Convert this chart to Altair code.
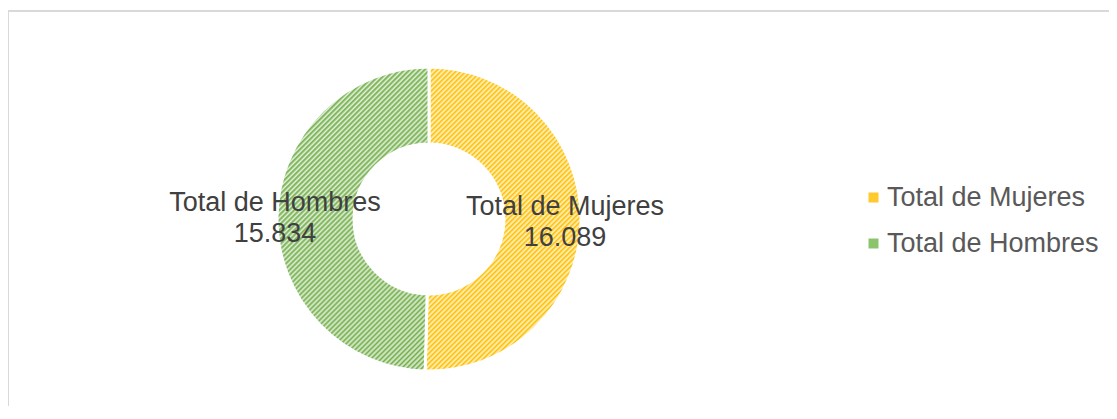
import math
import altair as alt
import pandas as pd

# ---- data ----
categories = ["Total de Mujeres", "Total de Hombres"]
totals = [16089, 15834]

df = pd.DataFrame({"categoria": categories, "total": totals, "orden": list(range(len(categories)))})

# ---- styling ----
CX, CY = 421, 211
R_OUT, R_IN = 152, 75
FONT = "Liberation Sans"
GOLD_DARK, GOLD_LIGHT = "#FFC000", "#FFF2CC"
GREEN_DARK, GREEN_LIGHT = "#70AD47", "#E2EFDA"


def hatch(dark, light, w, h, period=5.0):
    """Diagonal '/' hatch emulated with a periodic linear gradient (bbox units)."""
    s = (w + h) / (w * w + h * h)
    n = max(1, int(round((w + h) / period)))
    stops = []
    for k in range(n):
        stops += [
            alt.GradientStop(color=dark, offset=k / n),
            alt.GradientStop(color=light, offset=(k + 0.55) / n),
        ]
    stops.append(alt.GradientStop(color=dark, offset=1))
    return alt.LinearGradient(gradient="linear", stops=stops, x1=0, y1=0, x2=w * s, y2=h * s)


# bounding boxes of the two halves (for the hatch geometry)
split = 2 * math.pi * totals[0] / sum(totals)
w_m = R_OUT - R_OUT * math.sin(split)
w_h = R_OUT
h_box = 2 * R_OUT

base = (
    alt.Chart(df)
    .transform_joinaggregate(suma="sum(total)")
    .transform_window(acum="sum(total)", sort=[alt.SortField("orden")], frame=[None, 0])
    .transform_calculate(t0="2*PI*(datum.acum - datum.total)/datum.suma")
    .transform_calculate(t1="2*PI*datum.acum/datum.suma")
    .transform_calculate(tm="(datum.t0 + datum.t1)/2")
    .transform_calculate(
        etiqueta="[datum.categoria, replace(format(datum.total, ',d'), ',', '.')]"
    )
)

pos = dict(x=alt.value(CX), y=alt.value(CY))


def arc(cat, fill):
    return (
        base.transform_filter(alt.datum.categoria == cat)
        .mark_arc(fill=fill, stroke="white", strokeWidth=3, outerRadius=R_OUT, innerRadius=R_IN)
        .encode(theta=alt.Theta("t0:Q", scale=None), theta2="t1:Q", **pos)
    )


def label(cat, radius):
    return (
        base.transform_filter(alt.datum.categoria == cat)
        .mark_text(
            radius=radius, font=FONT, fontSize=27, color="#404040",
            lineHeight=31, align="center", baseline="middle", dy=-14,
        )
        .encode(theta=alt.Theta("tm:Q", scale=None), text="etiqueta:N", **pos)
    )


arc_m = arc(categories[0], hatch(GOLD_DARK, GOLD_LIGHT, w_m, h_box))
arc_h = arc(categories[1], hatch(GREEN_DARK, GREEN_LIGHT, w_h, h_box))
lab_m = label(categories[0], 136)
lab_h = label(categories[1], 154)

legend_layer = base.mark_text(text="").encode(
    color=alt.Color(
        "categoria:N",
        scale=alt.Scale(domain=categories, range=["#FFC930", "#8CC46C"]),
        legend=alt.Legend(
            title=None, orient="none", legendX=852, legendY=176,
            symbolType="square", symbolSize=100, symbolStrokeWidth=0,
            labelFont=FONT, labelFontSize=27, labelColor="#595959",
            labelOffset=0, rowPadding=18, labelLimit=400,
        ),
    )
)

border = alt.Chart(alt.Data(values=[{}]))
top_line = border.mark_rule(color="#D9D9D9", strokeWidth=2).encode(
    x=alt.value(0), x2=alt.value(1101), y=alt.value(3)
)
left_line = border.mark_rule(color="#D9D9D9", strokeWidth=2).encode(
    x=alt.value(0), y=alt.value(2), y2=alt.value(398)
)

chart = (
    alt.layer(top_line, left_line, arc_m, arc_h, lab_m, lab_h, legend_layer)
    .properties(
        width=1101, height=398,
        padding={"left": 0, "top": 0, "right": 0, "bottom": 0},
        autosize=alt.AutoSizeParams(type="none"),
        background="white",
    )
    .configure_view(stroke=None)
)

chart.save("out.html", embed_options={"renderer": "svg", "actions": False})
